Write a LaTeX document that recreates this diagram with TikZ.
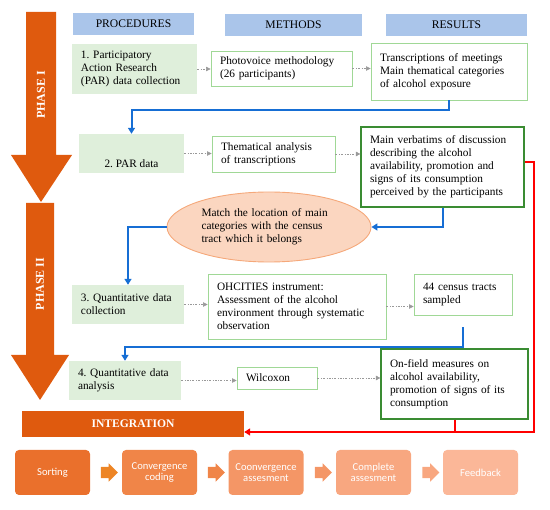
\documentclass[tikz,border=0pt]{standalone}
\usepackage{fontspec}
\setmainfont{Liberation Serif}
\newfontfamily\calib{Carlito}
\usetikzlibrary{arrows.meta,shapes.geometric,shapes.arrows}
\definecolor{phaseorange}{RGB}{223,90,14}
\definecolor{headblue}{RGB}{170,197,234}
\definecolor{procgreen}{RGB}{223,239,219}
\definecolor{litegreen}{RGB}{160,216,150}
\definecolor{darkgreen}{RGB}{58,140,50}
\definecolor{flowblue}{RGB}{22,110,212}
\definecolor{matchfill}{RGB}{251,214,192}
\definecolor{matchline}{RGB}{245,168,122}
\definecolor{stageA}{RGB}{234,112,44}
\definecolor{stageB}{RGB}{240,133,72}
\definecolor{stageC}{RGB}{244,150,102}
\definecolor{stageD}{RGB}{248,167,128}
\definecolor{stageE}{RGB}{251,183,152}
\frenchspacing
\begin{document}
\begin{tikzpicture}[x=1pt,y=-1pt,
  txt/.style={font=\fontsize{11.3}{13}\selectfont,inner xsep=9pt,inner ysep=0pt,align=left},
  head/.style={fill=headblue,font=\fontsize{11.6}{13}\selectfont,minimum height=22pt,inner sep=0pt},
  proc/.style={txt,fill=procgreen},
  meth/.style={txt,draw=litegreen,fill=white,line width=0.9pt},
  resdark/.style={txt,draw=darkgreen,fill=white,line width=1.2pt},
  dotarrow/.style={-{Triangle[length=4.5pt,width=4.5pt]},draw=gray!80,
    dash pattern=on 2pt off 1.5pt on 0.6pt off 1.5pt,line width=0.6pt},
  flow/.style={-{Triangle[length=6pt,width=7pt]},draw=flowblue,line width=2pt},
  redflow/.style={-{Triangle[length=6pt,width=7pt]},draw=red,line width=2pt},
  phasetxt/.style={rotate=90,text=white,font=\fontsize{12}{14}\selectfont\bfseries},
  stagebox/.style={rounded corners=4pt,minimum width=75pt,minimum height=45pt,inner sep=0pt,
    align=center,text=white,font=\calib\fontsize{10.6}{11.5}\selectfont},
  chev/.style={single arrow,minimum height=17pt,text height=5.5pt,text depth=5.5pt,
    single arrow head extend=3.5pt,inner sep=0pt}]
\useasboundingbox (0,0) rectangle (550,510);
\fill[phaseorange] (26,12) -- (56,12) -- (56,155) -- (72,155) -- (41,202) -- (11,155) -- (26,155) -- cycle;
\fill[phaseorange] (26,203) -- (54,203) -- (54,355) -- (69,355) -- (40,400) -- (11,355) -- (26,355) -- cycle;
\node[phasetxt] (ph1) at (41,95) {PHASE I};
\node[phasetxt] (ph2) at (40,284) {PHASE II};
\node[head,minimum width=121pt] (h1) at (133.5,24) {PROCEDURES};
\node[head,minimum width=137pt] (h2) at (293.5,25) {METHODS};
\node[head,minimum width=141pt] (h3) at (456.5,25) {RESULTS};
\node[proc,text width=107pt,minimum height=50pt] (p1) at (134.5,69) {1. Participatory\\Action Research\\(PAR) data collection};
\node[meth,text width=123pt,minimum height=35pt] (m1) at (281.5,68.5) {Photovoice methodology\\(26 participants)};
\node[meth,text width=138pt,minimum height=57pt] (r1) at (449,71.5) {Transcriptions of meetings\\Main thematical categories\\of alcohol exposure};
\node[proc,minimum width=105pt,minimum height=39pt,text height=28pt] (p2) at (131.5,153.5) {2. PAR data};
\node[meth,text width=105pt,minimum height=36pt] (m2) at (273.5,154) {Thematical analysis\\of transcriptions};
\node[resdark,text width=145pt,minimum height=80pt] (r2) at (442.5,167) {Main verbatims of discussion\\describing the alcohol\\availability, promotion and\\signs of its consumption\\perceived by the participants};
\node[ellipse,draw=matchline,fill=matchfill,line width=0.9pt,font=\fontsize{11.3}{13}\selectfont,
  align=left,text width=135pt,inner sep=0pt,minimum width=204pt,minimum height=70pt] (match) at (269,227)
  {Match the location of main\\categories with the census\\tract which it belongs};
\node[proc,text width=94pt,minimum height=39pt] (p3) at (128,304.5) {3. Quantitative data\\collection};
\node[meth,text width=160pt,minimum height=65pt] (m3) at (297,306.5) {OHCITIES instrument:\\Assessment of the alcohol\\environment through systematic\\observation};
\node[meth,text width=80pt,minimum height=41pt] (r3) at (463,294.5) {44 census tracts\\sampled};
\node[proc,text width=94pt,minimum height=39pt] (p4) at (125,380.5) {4. Quantitative data\\analysis};
\node[meth,text width=62pt,minimum height=22pt] (m4) at (277,378) {Wilcoxon};
\node[resdark,text width=129pt,minimum height=70pt] (r4) at (454.5,384) {On-field measures on\\alcohol availability,\\promotion of signs of its\\consumption};
\node[fill=phaseorange,text=white,font=\fontsize{11.6}{13}\selectfont\bfseries,minimum width=222pt,
  minimum height=26pt,inner sep=0pt] (integ) at (133,424) {INTEGRATION};
\coordinate (redcorner) at (534,432);
\foreach \i in {1,...,4} {
  \draw[dotarrow] (p\i.east) -- (p\i.east -| m\i.west);
  \draw[dotarrow] (m\i.east) -- (m\i.east -| r\i.west);
}
\draw[flow] (r1.south) -- ++(0,10) -| (p2.north);
\draw[flow] (r2.south) |- (match.east);
\draw[flow] (match.west) -| (p3.north);
\draw[flow] ([yshift=-12pt]r3.south) -- ++(0,20) -| (p4.north);
\draw[redflow] ([yshift=5pt]r2.east) -| (redcorner) -- (redcorner -| integ.east);
\draw[red,line width=2pt] (r4.south) -- (r4.south |- redcorner);
\node[stagebox,fill=stageA] (s1) at (52.5,472.5) {Sorting};
\node[stagebox,fill=stageB] (s2) at (159.5,472.5) {Convergence\\coding};
\node[stagebox,fill=stageC] (s3) at (266,472.5) {Coonvergence\\assesment};
\node[stagebox,fill=stageD] (s4) at (373.5,472.5) {Complete\\assesment};
\node[stagebox,fill=stageE] (s5) at (480.5,472.5) {Feedback};
\node[chev,fill=stageA!85!yellow] (c1) at (106.5,472.5) {};
\node[chev,fill=stageB] (c2) at (213.5,472.5) {};
\node[chev,fill=stageC] (c3) at (320.5,472.5) {};
\node[chev,fill=stageD] (c4) at (428,472.5) {};
\end{tikzpicture}
\end{document}
